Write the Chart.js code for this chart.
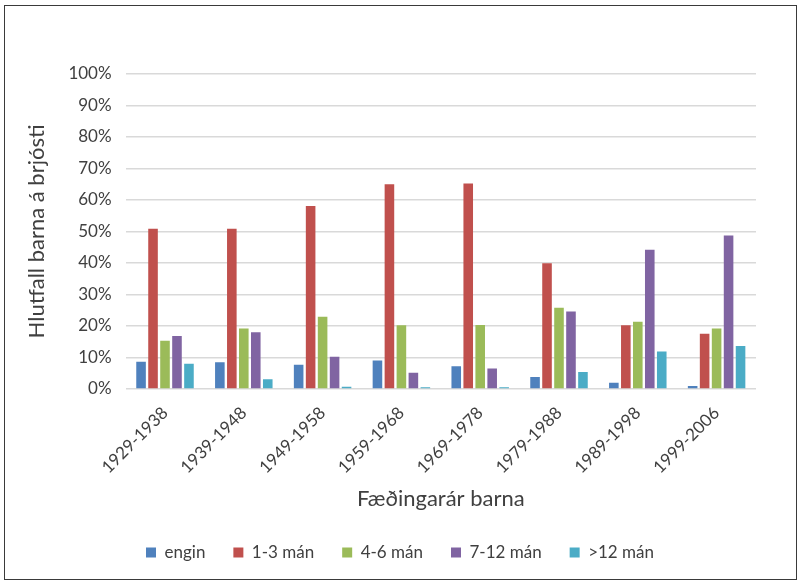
<!DOCTYPE html>
<html>
<head>
<meta charset="utf-8">
<script src="https://cdn.jsdelivr.net/npm/chart.js@4/dist/chart.umd.min.js"></script>
<style>
  html, body { margin: 0; padding: 0; background: #fff; }
  #wrap { width: 800px; height: 585px; position: relative; }
</style>
</head>
<body>
<div id="wrap"><canvas id="c" width="800" height="585"></canvas></div>
<script>
const categories = ['1929-1938', '1939-1948', '1949-1958', '1959-1968', '1969-1978', '1979-1988', '1989-1998', '1999-2006'];
const engin    = [8.6, 8.5, 7.7, 9.0, 7.2, 3.8, 2.0, 0.9];
const man1_3   = [50.9, 50.9, 58.1, 65.0, 65.2, 39.9, 20.2, 17.5];
const man4_6   = [15.3, 19.2, 22.9, 20.2, 20.3, 25.8, 21.3, 19.2];
const man7_12  = [16.8, 18.0, 10.2, 5.1, 6.5, 24.6, 44.2, 48.7];
const man12p   = [8.0, 3.1, 0.7, 0.5, 0.5, 5.4, 11.9, 13.6];
const yTicks   = [0, 10, 20, 30, 40, 50, 60, 70, 80, 90, 100];

const font = 'Lato, "Liberation Sans", sans-serif';

// Outer frame plus a small horizontal shift so the legend is centred on the page
const frame = {
  id: 'frame',
  afterLayout(chart) {
    const lg = chart.legend;
    if (lg) { lg.left += 12; lg.right += 12; }
  },
  afterDraw(chart) {
    const ctx = chart.ctx;
    ctx.save();
    ctx.strokeStyle = '#3a3a3a';
    ctx.lineWidth = 1;
    ctx.strokeRect(4.5, 5.5, 792, 574);
    ctx.restore();
  }
};

function ds(label, data, color) {
  return { label, data, backgroundColor: color, borderWidth: 0,
           categoryPercentage: 0.76, barPercentage: 0.8 };
}

new Chart(document.getElementById('c'), {
  type: 'bar',
  data: {
    labels: categories,
    datasets: [
      ds('engin', engin, '#4F81BD'),
      ds('1-3 mán', man1_3, '#C0504D'),
      ds('4-6 mán', man4_6, '#9BBB59'),
      ds('7-12 mán', man7_12, '#8064A2'),
      ds('>12 mán', man12p, '#4BACC6')
    ]
  },
  options: {
    responsive: false,
    animation: false,
    layout: { padding: { top: 74, left: 20, right: 44, bottom: 14 } },
    plugins: {
      legend: {
        position: 'bottom',
        labels: { boxWidth: 10, boxHeight: 10, padding: 28, color: '#404040', font: { family: font, size: 17 } }
      },
      tooltip: { enabled: false }
    },
    scales: {
      x: {
        grid: { display: false },
        border: { display: false },
        ticks: { minRotation: 45, maxRotation: 45, padding: 6, color: '#404040', font: { family: font, size: 17 } },
        title: { display: true, text: 'Fæðingarár barna', color: '#404040', font: { family: font, size: 22 }, padding: { top: 2 } }
      },
      y: {
        min: 0, max: 100,
        afterBuildTicks(axis) { axis.ticks = yTicks.map(v => ({ value: v })); },
        grid: { color: '#d9d9d9', lineWidth: 1.5, drawTicks: false },
        border: { display: false },
        ticks: { padding: 14, color: '#404040', font: { family: font, size: 17 }, callback: v => v + '%' },
        title: { display: true, text: 'Hlutfall barna á brjósti', color: '#404040', font: { family: font, size: 22 }, padding: { bottom: 4 } }
      }
    }
  },
  plugins: [frame]
});
</script>
</body>
</html>
